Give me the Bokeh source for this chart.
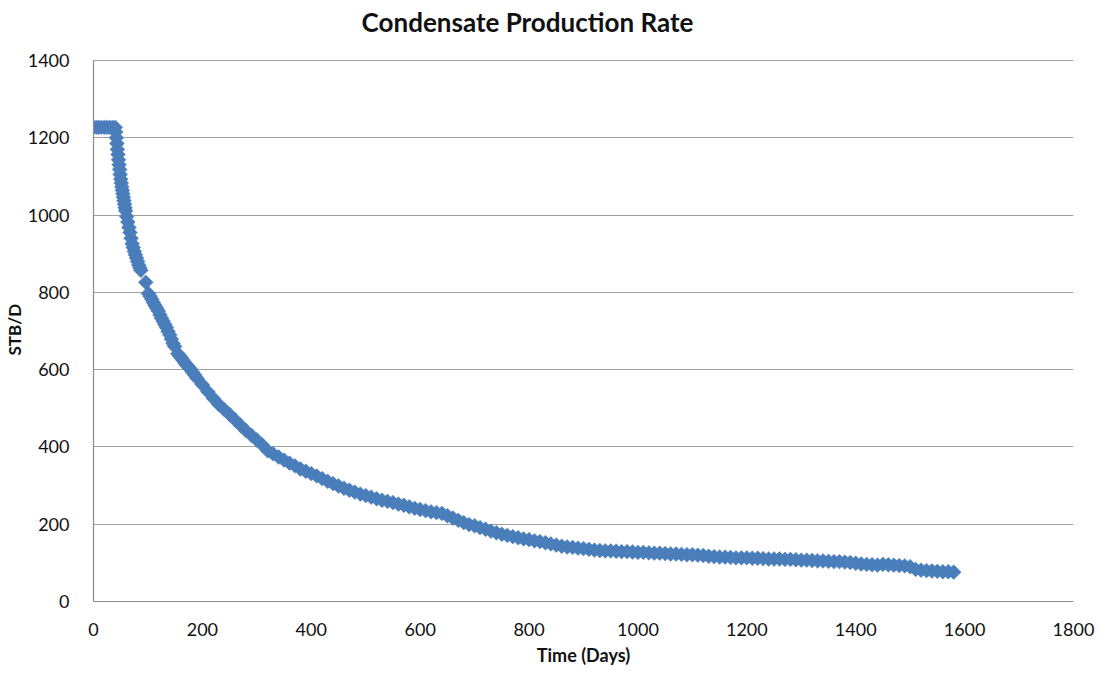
from bokeh.plotting import figure
from bokeh.models import ColumnDataSource, FixedTicker, Label, Range1d, Title
from bokeh.embed import file_html
from bokeh.resources import INLINE
import numpy as np

# ---- data ----
days = [0, 5, 10, 15, 20, 25, 30, 35, 40,
        41, 42, 43, 44, 45, 46, 47, 48, 49, 50, 51, 52, 53, 54, 55, 56, 57, 58, 59,
        61, 63, 65, 67, 69, 71, 73, 75, 77, 79, 81, 83, 85, 87,
        96,
        101, 104, 107, 110, 113, 116, 119, 122, 125, 128, 131, 134, 137, 140,
        143, 146, 149,
        155, 158, 161, 164, 167, 170, 173, 176, 179, 182, 186,
        190, 200, 210, 220, 230, 240, 250, 260, 270, 280, 290, 300, 310, 320,
        330, 340, 350, 360, 370, 380, 390, 400, 410, 420, 430, 440, 450, 460,
        470, 480, 490, 500, 510, 520, 530, 540, 550, 560, 570, 580, 590, 600,
        610, 620, 630, 640, 650, 660, 670, 680, 690, 700, 710, 720, 730, 740,
        750, 760, 770, 780, 790, 800, 810, 820, 830, 840, 850, 860, 870, 880,
        890, 900, 910, 920, 930, 940, 950, 960, 970, 980, 990, 1000, 1010, 1020,
        1030, 1040, 1050, 1060, 1070, 1080, 1090, 1100, 1110, 1120, 1130, 1140,
        1150, 1160, 1170, 1180, 1190, 1200, 1210, 1220, 1230, 1240, 1250, 1260,
        1270, 1280, 1290, 1300, 1310, 1320, 1330, 1340, 1350, 1360, 1370, 1380,
        1390, 1400, 1410, 1420, 1430, 1440, 1450, 1460, 1470, 1480, 1490, 1500,
        1510, 1520, 1530, 1540, 1550, 1560, 1570, 1580]
rates = [1227, 1227, 1227, 1227, 1227, 1227, 1227, 1227, 1227,
         1215, 1200, 1185, 1170, 1157, 1143, 1130, 1118, 1105, 1093, 1083, 1073,
         1064, 1055, 1046, 1037, 1028, 1019, 1011,
         996, 982, 968, 955, 940, 926, 916, 906, 897, 889, 880, 871, 864, 857,
         826,
         797, 790, 782, 774, 766, 759, 752, 742, 733, 725, 717, 709, 699, 690,
         679, 668, 660,
         641, 636, 631, 625, 619, 614, 609, 604, 600, 593, 586,
         578, 561, 543, 526, 510, 497, 484, 470, 456, 442, 430, 418, 405, 390,
         382, 374, 366, 358, 351, 343, 337, 331, 325, 318, 311, 305, 299, 293,
         288, 283, 278, 274, 270, 266, 262, 259, 256, 252, 249, 245, 241, 238,
         235, 232, 230, 228, 222, 216, 210, 204, 199, 196, 191, 187, 182, 178,
         174, 171, 168, 165, 162, 160, 157, 155, 152, 149, 146, 143, 141, 140,
         138, 137, 135, 133, 132, 131, 131, 130, 129, 129, 128, 127, 127, 126,
         125, 125, 124, 123, 123, 122, 121, 121, 120, 119, 117, 116,
         115, 115, 114, 113, 113, 113, 112, 112, 111, 110, 110, 110,
         109, 109, 108, 107, 107, 106, 105, 105, 104, 103, 103, 102,
         101, 99, 97, 96, 95, 94, 96, 95, 94, 93, 92, 90,
         83, 81, 80, 79, 78, 77, 77, 76]

x_ticks = [0, 200, 400, 600, 800, 1000, 1200, 1400, 1600, 1800]
y_ticks = [0, 200, 400, 600, 800, 1000, 1200, 1400]

title_text = "Condensate Production Rate"
x_label = "Time (Days)"
y_label = "STB/D"

FONT = "Lato"
TEXT = "#111111"

W, H = 1105, 673
LEFT, RIGHT, TOP_AXIS, BOTTOM = 93, 32, 60, 72
frame_h = H - BOTTOM                      # frame spans the canvas top to the x axis
y_top = y_ticks[-1] * frame_h / (frame_h - TOP_AXIS)   # headroom for the title

p = figure(width=W, height=H, x_range=Range1d(0, 1800), y_range=Range1d(0, y_top),
           output_backend="svg", toolbar_location=None,
           min_border_left=LEFT, min_border_right=RIGHT, min_border_top=0,
           min_border_bottom=BOTTOM, outline_line_color=None,
           background_fill_color="white", border_fill_color="white")

src = ColumnDataSource(dict(x=days, y=rates))
p.scatter("x", "y", source=src, marker="square", size=10.5, angle=np.pi / 4,
          fill_color="#4A7EBB", line_color="#4A7EBB", line_width=0.5)

# chart title, in screen units relative to the plot frame
title = Label(x=434, y=frame_h - 21, x_units="screen", y_units="screen",
              text=title_text, text_align="center", text_baseline="middle",
              text_font=FONT, text_font_size="26px", text_font_style="bold",
              text_color=TEXT)
p.add_layout(title)

p.xaxis.ticker = FixedTicker(ticks=x_ticks)
p.yaxis.ticker = FixedTicker(ticks=y_ticks)
p.yaxis.bounds = (y_ticks[0], y_ticks[-1])
for ax in (p.xaxis, p.yaxis):
    ax.major_tick_line_color = None
    ax.minor_tick_line_color = None
    ax.axis_line_color = "#8c8c8c"
    ax.axis_line_width = 1.2
    ax.major_label_text_font = FONT
    ax.major_label_text_font_size = "18px"
    ax.major_label_text_color = TEXT
    ax.axis_label_text_font = FONT
    ax.axis_label_text_font_style = "bold"
    ax.axis_label_text_color = TEXT

p.xaxis.axis_label = x_label
p.xaxis.axis_label_text_font_size = "18px"
p.xaxis.major_label_standoff = 15
p.xaxis.axis_label_standoff = 5
p.yaxis.major_label_standoff = 18

# y-axis title centred on the 0-1400 span (as a side-panel title)
ytitle = Title(text=y_label, align="left", offset=246, standoff=0,
               text_font=FONT, text_font_size="17px", text_font_style="bold",
               text_color=TEXT)
p.add_layout(ytitle, "left")

p.xgrid.grid_line_color = None
p.ygrid.grid_line_color = "#a0a0a0"
p.ygrid.grid_line_width = 1.2

open("out.html", "w").write(file_html(p, INLINE))
